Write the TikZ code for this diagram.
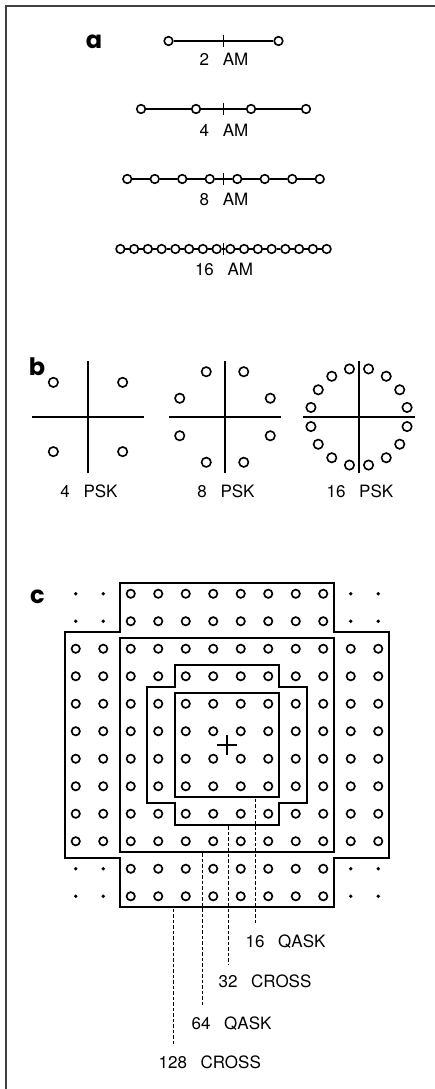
\documentclass[tikz,border=0pt]{standalone}
\usepackage{fontspec}
\setmainfont{TeX Gyre Heros}
\newfontfamily\panelfont{Poppins}
\usepackage{tikz}
\usetikzlibrary{positioning}

\newcommand{\gap}{\hspace{0.8em}}

\begin{document}
\begin{tikzpicture}[x=1pt, y=-1pt,
    ampt/.style={circle, draw, fill=white, line width=1.6pt, inner sep=0pt, minimum size=8.6pt},
    pskpt/.style={circle, draw, line width=1.6pt, inner sep=0pt, minimum size=9.4pt},
    qpt/.style={circle, draw, line width=1.7pt, inner sep=0pt, minimum size=8.3pt},
    qdot/.style={circle, fill, inner sep=0pt, minimum size=3.8pt},
    axis/.style={line width=1.7pt},
    edge/.style={line width=1.8pt},
    leader/.style={line width=1.1pt, dash pattern=on 3.5pt off 2pt, shorten <=1.5pt, shorten >=10pt},
    lbl/.style={font=\fontsize{17}{19}\selectfont, inner sep=0pt, anchor=base},
    panel/.style={font=\panelfont\bfseries\fontsize{24}{26}\selectfont, inner sep=0pt, anchor=base}]
  \useasboundingbox (0,0) rectangle (435,1089);
  \draw[line width=1.8pt, black!75] (435,6) -- (6,6) -- (6,1089);

  \node[panel] (pa) at (94,49) {a};
  \node[panel] (pb) at (37,375) {b};
  \node[panel] (pc) at (37.5,603) {c};

  % amplitude levels
  \foreach \m/\y/\ly in {2/41/66, 4/109/136.5, 8/179/205, 16/249/275}{
    \draw[line width=1.5pt] (223.5,\y-6) -- (223.5,\y+6);
    \foreach \k in {1,...,\m}
      \node[ampt] (am\m-\k) at ({223.5+(\k-(\m+1)/2)*220/\m},\y) {};
    \pgfmathtruncatemacro{\n}{\m-1}
    \foreach \k in {1,...,\n}{
      \pgfmathtruncatemacro{\j}{\k+1}
      \draw[line width=1.4pt] (am\m-\k) -- (am\m-\j);
    }
    \node[lbl] (amlbl\m) at (224,\ly) {\m\gap AM};
  }

  % phase states
  \foreach \c/\x/\off in {4/88/45, 8/225/22.5, 16/359/11.25}{
    \coordinate (psk\c) at (\x,417);
    \draw[axis] ([xshift=-56pt]psk\c) -- ([xshift=56pt]psk\c);
    \draw[axis] ([yshift=-56pt]psk\c) -- ([yshift=56pt]psk\c);
    \foreach \k in {1,...,\c}
      \node[pskpt] (psk\c-\k) at ({\x+49*cos(\off+(\k-1)*360/\c)},{417+49*sin(\off+(\k-1)*360/\c)}) {};
    \node[lbl] (psklbl\c) at (\x+1,497) {\c\gap PSK};
  }

  % qask / cross grid
  \begin{scope}[shift={(227,745)}, x=27.5pt, y=-27.5pt]
    \foreach \i in {1,...,12}
      \foreach \j in {1,...,12}{
        \pgfmathtruncatemacro{\corner}{(\i<3 || \i>10) && (\j<3 || \j>10)}
        \ifnum\corner=1
          \node[qdot] (g\i-\j) at (\i-6.5,\j-6.5) {};
        \else
          \node[qpt] (g\i-\j) at (\i-6.5,\j-6.5) {};
        \fi
      }
    \foreach \a/\b/\o in {3.88/4.12/5.9, 1.9/2.1/2.9}
      \draw[edge] (-\a,-\o) -- (\a,-\o) -- (\a,-\b) -- (\o,-\b) -- (\o,\b) -- (\a,\b) -- (\a,\o)
        -- (-\a,\o) -- (-\a,\b) -- (-\o,\b) -- (-\o,-\b) -- (-\a,-\b) -- cycle;
    \draw[edge] (-3.88,-3.88) rectangle (3.88,3.88);
    \draw[edge] (-1.9,-1.9) rectangle (1.9,1.9);
    \draw[edge] (-0.38,0) -- (0.38,0) (0,-0.38) -- (0,0.38);
    \coordinate (q16) at (1.02,1.9);
    \coordinate (c32) at (0.07,2.9);
    \coordinate (q64) at (-0.9,3.88);
    \coordinate (c128) at (-1.93,5.9);
  \end{scope}

  \node[lbl, anchor=base west] (lbl16) at (245.5,947) {16\gap QASK};
  \node[lbl, anchor=base west] (lbl32) at (218.5,987) {32\gap CROSS};
  \node[lbl, anchor=base west] (lbl64) at (191.5,1029) {64\gap QASK};
  \node[lbl, anchor=base west] (lbl128) at (158.5,1068) {128\gap CROSS};
  \draw[leader] (q16) -- (lbl16.north -| q16);
  \draw[leader] (c32) -- (lbl32.north -| c32);
  \draw[leader] (q64) -- (lbl64.north -| q64);
  \draw[leader] (c128) -- (lbl128.north -| c128);
\end{tikzpicture}
\end{document}
